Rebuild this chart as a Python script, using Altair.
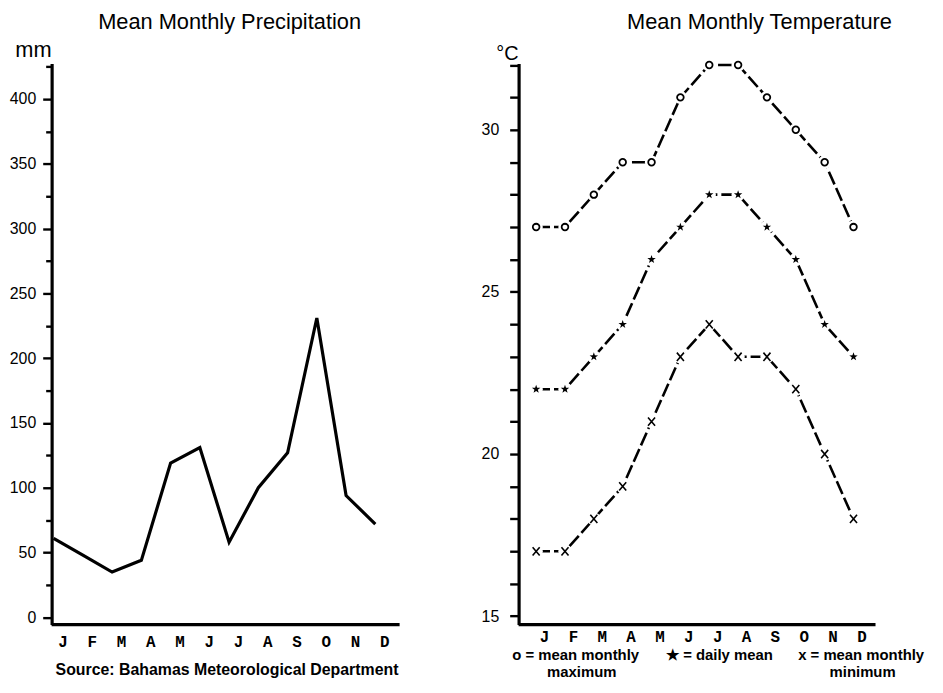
import json
import altair as alt
import pandas as pd

# ---------------- data ----------------
months = ["J", "F", "M", "A", "M", "J", "J", "A", "S", "O", "N", "D"]
precip_mm = [61, 48, 35, 44, 119, 131, 58, 100, 127, 231, 94, 72]
temp_max = [27, 27, 28, 29, 29, 31, 32, 32, 31, 30, 29, 27]
temp_mean = [22, 22, 23, 24, 26, 27, 28, 28, 27, 26, 24, 23]
temp_min = [17, 17, 18, 19, 21, 23, 24, 23, 23, 22, 20, 18]
precip_ticks = list(range(0, 426, 25))
temp_ticks = list(range(15, 33))

idx = list(range(12))
pdf = pd.DataFrame({"i": idx, "mm": precip_mm})
tdf = pd.DataFrame({
    "i": idx * 3,
    "t": temp_max + temp_mean + temp_min,
    "s": ["max"] * 12 + ["mean"] * 12 + ["min"] * 12,
})

# ---------------- layout ----------------
W, H = 831, 566
FONT = "Liberation Sans"
MONO = "Liberation Mono"

px_dom = [-0.0678, 28.102]   # precipitation month scale
py_dom = [-5.56, 427.4]      # mm
tx_dom = [-16.794, 11.763]   # temperature month scale
ty_dom = [14.74, 32.047]     # degC
P_AXIS_END = 11.83
T_AXIS_START = -0.608

label_expr = json.dumps(months) + "[datum.value]"


def tick_size(step):
    return {"condition": {"test": f"datum.value % {step} != 0", "value": 6}, "value": 9}


def month_axis(offset, pad):
    return alt.Axis(orient="bottom", values=idx, labelExpr=label_expr, ticks=False, tickSize=0,
                    domain=False, grid=False, labelFont=MONO, labelFontWeight="bold",
                    labelFontSize=16, labelColor="black", labelOffset=offset, labelPadding=pad,
                    labelBaseline="middle", labelOverlap=False, labelFlush=False, title="")


def value_axis(values, step, pad, offset=0):
    return alt.Axis(orient="left", values=values,
                    labelExpr=f"datum.value % {step} == 0 ? datum.label : ''",
                    tickSize=tick_size(1 if step == 5 else 50), tickWidth=2.4, tickColor="black",
                    domainColor="black", domainWidth=3.2, grid=False, labelFont=FONT,
                    labelFontSize=16, labelColor="black", labelPadding=pad, labelOverlap=False,
                    labelFlush=False, title="", offset=offset)


xP = alt.X("i:Q", scale=alt.Scale(domain=px_dom, nice=False, zero=False), axis=month_axis(9, 17))
yP = alt.Y("mm:Q", scale=alt.Scale(domain=py_dom, nice=False, zero=False),
           axis=value_axis(precip_ticks, 50, 7))

xT = alt.X("i:Q", scale=alt.Scale(domain=tx_dom, nice=False, zero=False), axis=month_axis(8, 12))
yT = alt.Y("t:Q", scale=alt.Scale(domain=ty_dom, nice=False, zero=False),
           axis=value_axis(temp_ticks, 5, 11, offset=-471))

# precipitation panel
precip_line = alt.Chart(pdf).mark_line(color="black", strokeWidth=3.2).encode(x=xP, y=yP)
precip_xline = alt.Chart(pd.DataFrame({"i": [px_dom[0]], "i2": [P_AXIS_END], "mm": [py_dom[0]]})) \
    .mark_rule(color="black", strokeWidth=3.2).encode(x=xP, x2="i2:Q", y=yP)
precip = alt.layer(precip_line, precip_xline)

# temperature panel
STAR = ("M0,-1L0.235,-0.324L0.951,-0.309L0.380,0.124L0.588,0.809L0,0.4"
        "L-0.588,0.809L-0.380,0.124L-0.951,-0.309L-0.235,-0.324Z")
XMARK = "M-0.85,-1L0.85,1M0.85,-1L-0.85,1"

t_lines = alt.Chart(tdf).mark_line(color="black", strokeWidth=2.6, strokeDash=[14, 4]) \
    .encode(x=xT, y=yT, detail="s:N")
t_gaps = alt.Chart(tdf).mark_circle(size=180, color="white", opacity=1).encode(x=xT, y=yT)
m_max = alt.Chart(tdf).transform_filter("datum.s == 'max'") \
    .mark_point(shape="circle", filled=False, size=45, strokeWidth=1.8, color="black", opacity=1) \
    .encode(x=xT, y=yT)
m_mean = alt.Chart(tdf).transform_filter("datum.s == 'mean'") \
    .mark_point(shape=STAR, filled=True, size=80, color="black", opacity=1) \
    .encode(x=xT, y=yT)
m_min = alt.Chart(tdf).transform_filter("datum.s == 'min'") \
    .mark_point(shape=XMARK, filled=False, size=70, strokeWidth=1.6, color="black", opacity=1) \
    .encode(x=xT, y=yT)
t_xline = alt.Chart(pd.DataFrame({"i": [T_AXIS_START], "i2": [tx_dom[1]], "t": [ty_dom[0]]})) \
    .mark_rule(color="black", strokeWidth=3.2).encode(x=xT, x2="i2:Q", y=yT)
temp = alt.layer(t_lines, t_gaps, m_max, m_mean, m_min, t_xline)

# text annotations
one = pd.DataFrame({"k": [0]})


def note(text, x, y, size=16, weight="normal", align="left"):
    return alt.Chart(one).mark_text(text=text, font=FONT, fontSize=size, fontWeight=weight,
                                    align=align, baseline="alphabetic", color="black") \
        .encode(x=alt.value(x), y=alt.value(y))


notes = [
    note("Mean Monthly Precipitation", 179.5, -35, 22, align="center"),
    note("Mean Monthly Temperature", 714, -35, 22, align="center"),
    note("mm", 0, -6, 22, align="right"),
    note("°C", 471, -3.5, 20, align="right"),
    note("Source: Bahamas Meteorological Department", 4, 617, 16, "bold"),
    note("o = mean monthly", 464.7, 602, 15, "bold"),
    note("maximum", 534.7, 619, 15, "bold", "center"),
    note("★ = daily mean", 619.7, 602, 15, "bold"),
    note("x = mean monthly", 753, 602, 15, "bold"),
    note("minimum", 818, 619, 15, "bold", "center"),
]

chart = alt.layer(precip, temp, *notes) \
    .resolve_scale(x="independent", y="independent") \
    .resolve_axis(x="independent", y="independent") \
    .properties(width=W, height=H,
                padding={"left": 44, "top": 53, "right": 60, "bottom": 54},
                autosize=alt.AutoSizeParams(type="none")) \
    .configure_view(stroke="transparent")

chart.save("out.html", embed_options={"renderer": "svg", "actions": False})
